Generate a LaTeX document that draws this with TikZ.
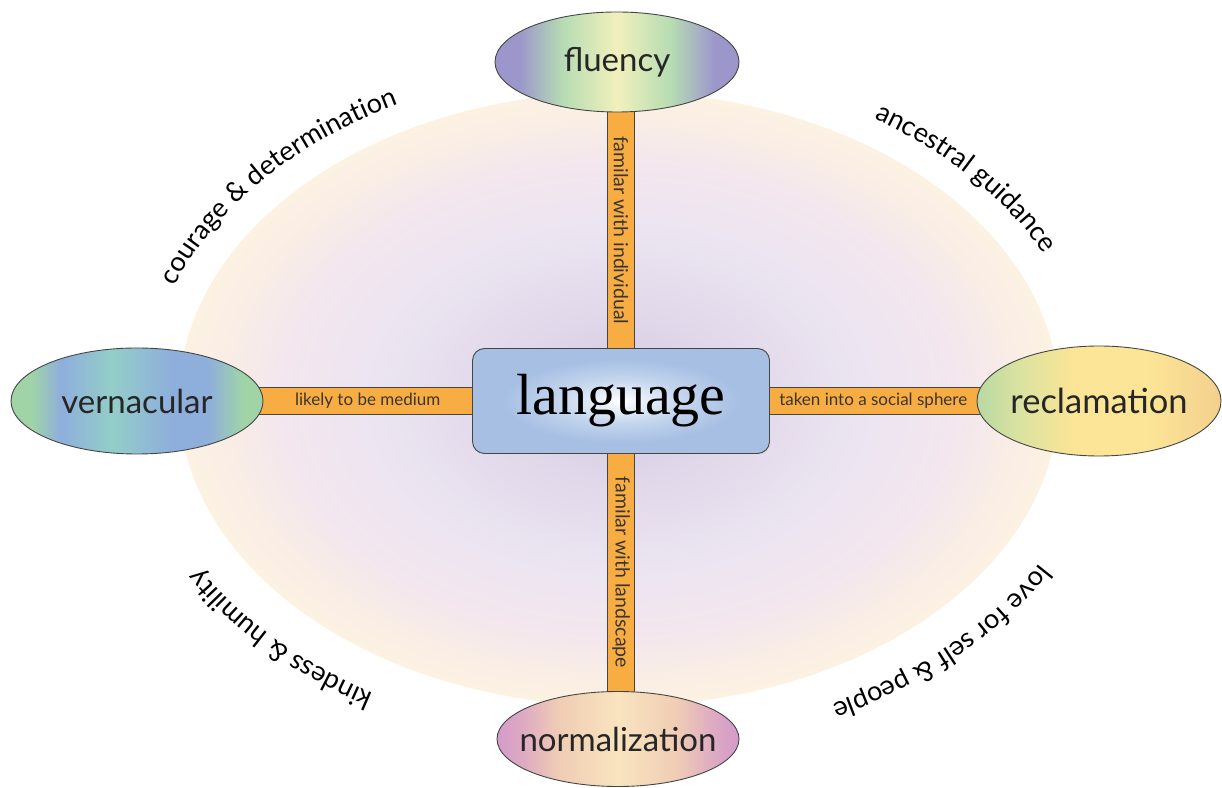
\documentclass[tikz,border=0pt]{standalone}
\usepackage{fontspec}
\setmainfont{Lato}
\newfontfamily\serifbig{Liberation Serif}
\usetikzlibrary{shapes.geometric,decorations.text,calc}
\pgfdeclarelayer{bglayer}
\pgfdeclarelayer{barlayer}
\pgfsetlayers{bglayer,barlayer,main}

\definecolor{bgA}{HTML}{D4C8E0}
\definecolor{bgB}{HTML}{E1D8EA}
\definecolor{bgC}{HTML}{ECE5F1}
\definecolor{bgD}{HTML}{F3E6EE}
\definecolor{bgE}{HTML}{F9EDE6}
\definecolor{bgF}{HTML}{FCF2E1}
\definecolor{boxM}{HTML}{C6D7EE}
\definecolor{boxB}{HTML}{A6BFE3}
\definecolor{fluP}{HTML}{9C97CB}
\definecolor{fluG}{HTML}{B7DCB3}
\definecolor{fluY}{HTML}{F2F0BC}
\definecolor{verG}{HTML}{A0D4A7}
\definecolor{verB}{HTML}{8EAEDC}
\definecolor{verT}{HTML}{93CEC8}
\definecolor{recG}{HTML}{B8D9A3}
\definecolor{recL}{HTML}{D8E2A0}
\definecolor{recY}{HTML}{FCE596}
\definecolor{recO}{HTML}{F3D08D}
\definecolor{norP}{HTML}{D49ACB}
\definecolor{norQ}{HTML}{DDA9C3}
\definecolor{norS}{HTML}{F0CDB4}
\definecolor{norY}{HTML}{F9E4BF}
\definecolor{barorange}{HTML}{F8AD42}
\definecolor{edgegray}{HTML}{454545}
\definecolor{txtdark}{HTML}{262626}
\definecolor{labeldark}{HTML}{3A3530}

\pgfdeclareradialshading{bgshade}{\pgfpoint{0bp}{0bp}}{color(0bp)=(bgA); color(7bp)=(bgB); color(14bp)=(bgC); color(19bp)=(bgD); color(22.5bp)=(bgE); color(25bp)=(bgF); color(50bp)=(bgF)}
\pgfdeclareradialshading{boxshade}{\pgfpoint{0bp}{0bp}}{color(0bp)=(white); color(10bp)=(boxM); color(20bp)=(boxB); color(25bp)=(boxB); color(50bp)=(boxB)}
\pgfdeclarehorizontalshading{flushade}{100bp}{color(0bp)=(fluP); color(25bp)=(fluP); color(30bp)=(fluP); color(39bp)=(fluG); color(50bp)=(fluY); color(61bp)=(fluG); color(70bp)=(fluP); color(75bp)=(fluP); color(100bp)=(fluP)}
\pgfdeclarehorizontalshading{vershade}{100bp}{color(0bp)=(verG); color(25bp)=(verG); color(29bp)=(verG); color(35bp)=(verB); color(45bp)=(verT); color(57bp)=(verB); color(64bp)=(verB); color(71bp)=(verG); color(75bp)=(verG); color(100bp)=(verG)}
\pgfdeclarehorizontalshading{recshade}{100bp}{color(0bp)=(recG); color(25bp)=(recG); color(33bp)=(recL); color(45bp)=(recY); color(60bp)=(recY); color(75bp)=(recO); color(100bp)=(recO)}
\pgfdeclarehorizontalshading{norshade}{100bp}{color(0bp)=(norP); color(25bp)=(norP); color(30bp)=(norQ); color(38bp)=(norS); color(50bp)=(norY); color(62bp)=(norS); color(70bp)=(norQ); color(75bp)=(norP); color(100bp)=(norP)}

\newcommand\arcfont{\fontsize{27}{27}\selectfont}

\tikzset{
  outerell/.style={ellipse, draw=edgegray, line width=0.9pt, inner sep=0pt,
    font=\fontsize{33}{33}\selectfont, text=txtdark},
  langbox/.style={rectangle, rounded corners=12pt, draw=edgegray, line width=0.9pt,
    shading=boxshade, minimum width=297, minimum height=105, inner sep=0pt, text=black},
  barline/.style={draw=edgegray, line width=0.9pt, double=barorange, double distance=26pt},
  barlabel/.style={font=\fontsize{17}{17}\selectfont, text=labeldark, inner sep=0pt},
  vbarlabel/.style={font=\fontsize{19.5}{19.5}\selectfont, text=labeldark, inner sep=0pt, rotate=-90},
}

\begin{document}
\begin{tikzpicture}[x=1pt,y=1pt]
\useasboundingbox (0,0) rectangle (1222,787);

\node[langbox] (lang) at (621,386) {\serifbig\fontsize{58}{58}\selectfont language};
\node[outerell, shading=flushade, minimum width=244, minimum height=100] (flu) at (617,725) {\makebox[0pt]{fluency}};
\node[outerell, shading=norshade, minimum width=242, minimum height=95] (norm) at (618,48) {\makebox[0pt]{normalization}};
\node[outerell, shading=vershade, minimum width=252, minimum height=106] (vern) at (137,386) {\makebox[0pt]{vernacular}};
\node[outerell, shading=recshade, minimum width=244, minimum height=110] (recl) at (1099,386) {\makebox[0pt]{\fontsize{34.5}{34.5}\selectfont reclamation}};

\begin{pgfonlayer}{bglayer}
\node[ellipse, inner sep=0pt, minimum width=880, minimum height=614, shading=bgshade] (bgell) at (619,388) {};
\end{pgfonlayer}

\begin{pgfonlayer}{barlayer}
\draw[barline] (lang.center) -- (lang.center |- flu.center);
\draw[barline] (lang.center) -- (lang.center |- norm.center);
\draw[barline] (lang.center) -- (vern.center);
\draw[barline] (lang.center) -- (recl.center);
\end{pgfonlayer}

\path (vern.east) -- (lang.west) node[barlabel, midway] (l1) {likely to be medium};
\path (lang.east) -- (recl.west) node[barlabel, midway] (l2) {taken into a social sphere};
\path (lang.north |- flu.south) -- (lang.north) node[vbarlabel, midway] (l3) {familar with individual};
\path (lang.south) -- (lang.south |- norm.north) node[vbarlabel, midway] (l4) {familar with landscape};

\path[decorate, decoration={text along path, text align=center, text={|\arcfont|courage {\&} determination}}]
  (bgell.center) ++(176:472 and 333) arc[start angle=176, end angle=106, x radius=472, y radius=333];
\path[decorate, decoration={text along path, text align=center, text={|\arcfont|ancestral guidance}}]
  (bgell.center) ++(74:472 and 333) arc[start angle=74, end angle=4, x radius=472, y radius=333];
\path[decorate, decoration={text along path, text align=center, text={|\arcfont|love for self {\&} people}}]
  (bgell.center) ++(-9:480 and 340) arc[start angle=-9, end angle=-79, x radius=480, y radius=340];
\path[decorate, decoration={text along path, text align=center, text={|\arcfont|kindess {\&} humility}}]
  (bgell.center) ++(257:482 and 342) arc[start angle=257, end angle=187, x radius=482, y radius=342];
\end{tikzpicture}
\end{document}
